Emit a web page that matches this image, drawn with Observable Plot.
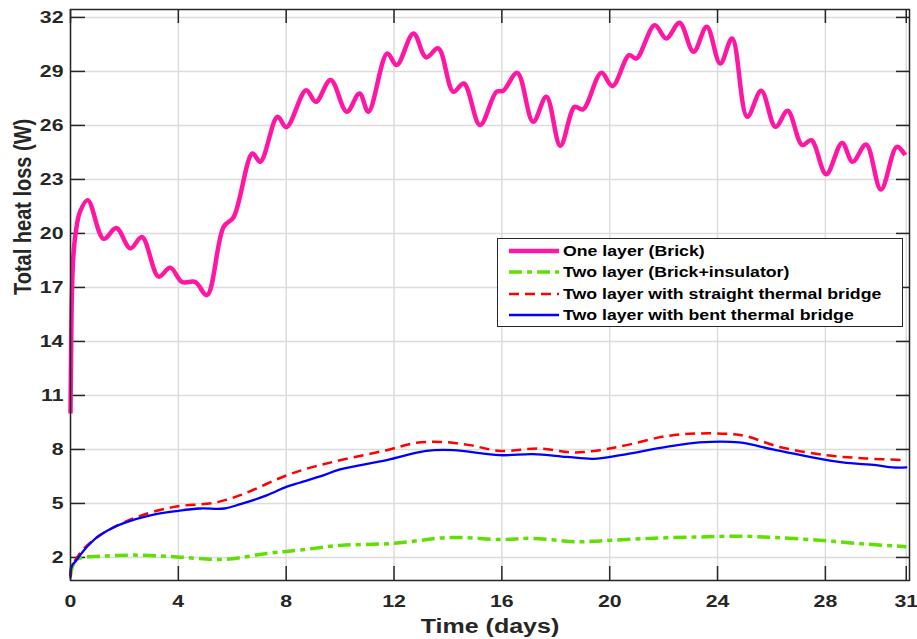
<!DOCTYPE html>
<html><head><meta charset="utf-8">
<script src="https://cdn.jsdelivr.net/npm/d3@7"></script>
<script src="https://cdn.jsdelivr.net/npm/@observablehq/plot@0.6"></script>
<style>
html,body{margin:0;padding:0;background:#fff;}
#wrap{position:relative;width:917px;height:639px;font-family:"Liberation Sans",Arial,sans-serif;overflow:hidden;}
#legend{position:absolute;left:497px;top:238px;width:406px;height:89px;border:1.5px solid #262626;background:#fff;box-sizing:border-box;}
.row{position:absolute;left:0;height:20px;width:400px;}
.row svg{position:absolute;left:10px;top:0;}
.row span{position:absolute;left:65px;top:1px;font-weight:bold;font-size:15px;line-height:18px;color:#000;white-space:nowrap;transform:scaleX(1.18);transform-origin:left center;}
</style></head><body><div id="wrap"></div>
<script>
// ---- data ----
const seriesNames = ["One layer (Brick)", "Two layer (Brick+insulator)", "Two layer with straight thermal bridge", "Two layer with bent thermal bridge"];
const seriesColors = ["#ff17a4", "#5fe000", "#ff0000", "#0000ff"];
const xTicks = [0, 4, 8, 12, 16, 20, 24, 28, 31];
const yTicks = [2, 5, 8, 11, 14, 17, 20, 23, 26, 29, 32];
const xLabel = "Time (days)";
const yLabel = "Total heat loss (W)";

const brickT = [0,0.02,0.05,0.1,0.19,0.35,0.64,1.23,1.7,2.22,2.65,3.27,3.7,4.14,4.63,5.06,5.68,6.05,6.75,7.04,7.68,8.01,8.74,9.1,9.65,10.25,10.72,11.05,11.75,12.1,12.72,13.19,13.64,14.2,14.59,15.19,15.8,16.05,16.57,17.16,17.65,18.17,18.7,19.01,19.69,20.1,20.72,20.99,21.67,22.1,22.59,23.11,23.6,24.1,24.54,25.1,25.62,26.15,26.6,27.14,27.48,28.03,28.62,29.01,29.51,30.06,30.65,30.96];
const brickV = [10,13,16.5,18.6,20.0,21.2,21.85,19.7,20.3,19.17,19.8,17.6,18.1,17.3,17.3,16.57,20.37,20.9,24.44,23.98,26.48,25.9,27.96,27.31,28.52,26.76,27.78,26.76,30.0,29.35,31.11,29.78,30.28,27.87,28.33,26.02,27.87,27.92,28.92,26.2,27.59,24.87,27.03,26.89,28.92,28.18,29.9,29.72,31.57,30.83,31.7,30.09,31.48,29.44,30.83,26.48,27.92,25.92,26.81,24.91,25.18,23.29,25.03,23.98,24.94,22.44,24.81,24.35];

const insT = [0,0.1,0.31,1.11,2.34,3.95,5.68,7.28,8.52,10,11.97,14.07,15.93,17.16,18.77,19.63,21.48,23.33,24.81,26.05,27.78,29.51,31];
const insV = [1.0,1.6,1.94,2.07,2.13,2.03,1.89,2.22,2.41,2.67,2.78,3.11,3.0,3.06,2.87,2.92,3.06,3.14,3.18,3.11,2.96,2.74,2.6];

const straightT = [0,0.04,0.2,0.5,1.1,2.34,3.83,5.31,6.3,8.03,9.0,10.12,11.73,12.84,13.83,14.81,15.93,17.41,18.64,19.63,20.62,22.1,23.33,24.57,25.06,26.3,28.03,29.51,31];
const straightV = [0.95,1.5,1.9,2.5,3.24,4.17,4.81,5.03,5.46,6.57,7.03,7.44,7.96,8.37,8.41,8.24,7.92,8.05,7.83,7.96,8.24,8.74,8.89,8.85,8.74,8.14,7.68,7.5,7.41];

const bentT = [0,0.04,0.2,0.5,1.0,1.5,2,3,4,4.8,5.7,6.3,7.3,8.0,8.5,9.26,10,11.73,13.2,14.2,15.93,17.16,18.4,19.4,20.4,22.1,23.33,24.8,26.05,27.28,28.64,29.88,30.49,31];
const bentV = [0.9,1.5,1.8,2.4,3.14,3.6,3.92,4.35,4.59,4.72,4.72,4.96,5.46,5.92,6.15,6.5,6.89,7.41,7.92,7.96,7.68,7.74,7.59,7.48,7.68,8.14,8.39,8.39,8.0,7.63,7.28,7.13,7.0,7.0];

// ---- build tables ----
const toRows = (T, V) => T.map((t, i) => ({t, v: V[i]}));
const brick = toRows(brickT, brickV);
const ins = toRows(insT, insV);
const straight = toRows(straightT, straightV);
const bent = toRows(bentT, bentV);

const W = 917, H = 639, mL = 70, mR = 8, mT = 9, mB = 59;
const pw = W - mL - mR, ph = H - mT - mB;
const axisColor = "#262626", gridColor = "#dcdcdc";

const plot = Plot.plot({
  width: W, height: H,
  marginLeft: mL, marginRight: mR, marginTop: mT, marginBottom: mB,
  style: {fontFamily: "'Liberation Sans', Arial, sans-serif", color: axisColor, background: "#fff"},
  x: {domain: [0, 31.12]},
  y: {domain: [0.72, 32.44]},
  marks: [
    Plot.gridX(xTicks, {stroke: gridColor, strokeOpacity: 1, strokeWidth: 1.5}),
    Plot.gridY(yTicks, {stroke: gridColor, strokeOpacity: 1, strokeWidth: 1.5}),
    Plot.tickX(xTicks, {x: d => d, insetTop: ph - 14, stroke: axisColor, strokeWidth: 1.5}),
    Plot.tickX(xTicks, {x: d => d, insetBottom: ph - 14, stroke: axisColor, strokeWidth: 1.5}),
    Plot.tickY(yTicks, {y: d => d, insetRight: pw - 15, stroke: axisColor, strokeWidth: 1.5}),
    Plot.tickY(yTicks, {y: d => d, insetLeft: pw - 13, stroke: axisColor, strokeWidth: 1.5}),
    Plot.axisX(xTicks, {tickSize: 0, tickPadding: 14, label: null, fontSize: 17, fontWeight: "bold", tickFormat: d => String(d)}),
    Plot.axisY(yTicks, {tickSize: 0, tickPadding: 7, label: null, fontSize: 17, fontWeight: "bold", tickFormat: d => String(d)}),
    Plot.text([xLabel], {text: d => d, frameAnchor: "bottom", dy: 38, lineAnchor: "top", fontSize: 20, fontWeight: "bold", fill: axisColor}),
    Plot.text([yLabel], {text: d => d, frameAnchor: "left", rotate: -90, dx: -57, lineAnchor: "top", fontSize: 20, fontWeight: "bold", fill: axisColor}),
    Plot.line(brick, {x: "t", y: "v", stroke: seriesColors[0], strokeWidth: 4.5, curve: "catmull-rom", strokeLinecap: "butt"}),
    Plot.line(ins, {x: "t", y: "v", stroke: seriesColors[1], strokeWidth: 3.5, curve: "catmull-rom", strokeDasharray: "13,5,5,5", strokeLinecap: "butt"}),
    Plot.line(straight, {x: "t", y: "v", stroke: seriesColors[2], strokeWidth: 2.5, curve: "catmull-rom", strokeDasharray: "10,6", strokeLinecap: "butt"}),
    Plot.line(bent, {x: "t", y: "v", stroke: seriesColors[3], strokeWidth: 2.3, curve: "catmull-rom"}),
    Plot.frame({stroke: axisColor, strokeWidth: 1.5})
  ]
});

const wrap = document.getElementById("wrap");
wrap.appendChild(plot);

// horizontal stretch of text (about its anchor) to match reference glyph proportions
plot.querySelectorAll("text").forEach(el => {
  const bb = el.getBBox();
  const tr = el.getAttribute("transform") || "";
  const rotated = tr.includes("rotate");
  const anchor = getComputedStyle(el).textAnchor;
  let px = anchor === "end" ? bb.x + bb.width : anchor === "middle" ? bb.x + bb.width / 2 : bb.x;
  let py = bb.y;
  const s = rotated ? "scale(1,1.2)" : "scale(1.25,1)";
  el.setAttribute("transform", `${tr} translate(${px},${py}) ${s} translate(${-px},${-py})`);
});

// legend
const dashes = [null, "13,5,5,5", "10,6", null];
const widths = [4.5, 3.5, 2.5, 2.3];
const legend = document.createElement("div");
legend.id = "legend";
seriesNames.forEach((name, i) => {
  const row = document.createElement("div");
  row.className = "row";
  row.style.top = (2 + i * 21.4) + "px";
  row.innerHTML = `<svg width="52" height="20"><line x1="1" x2="51" y1="10" y2="10" stroke="${seriesColors[i]}" stroke-width="${widths[i]}" ${dashes[i] ? `stroke-dasharray="${dashes[i]}"` : ""}/></svg><span>${name}</span>`;
  legend.appendChild(row);
});
wrap.appendChild(legend);
</script></body></html>
